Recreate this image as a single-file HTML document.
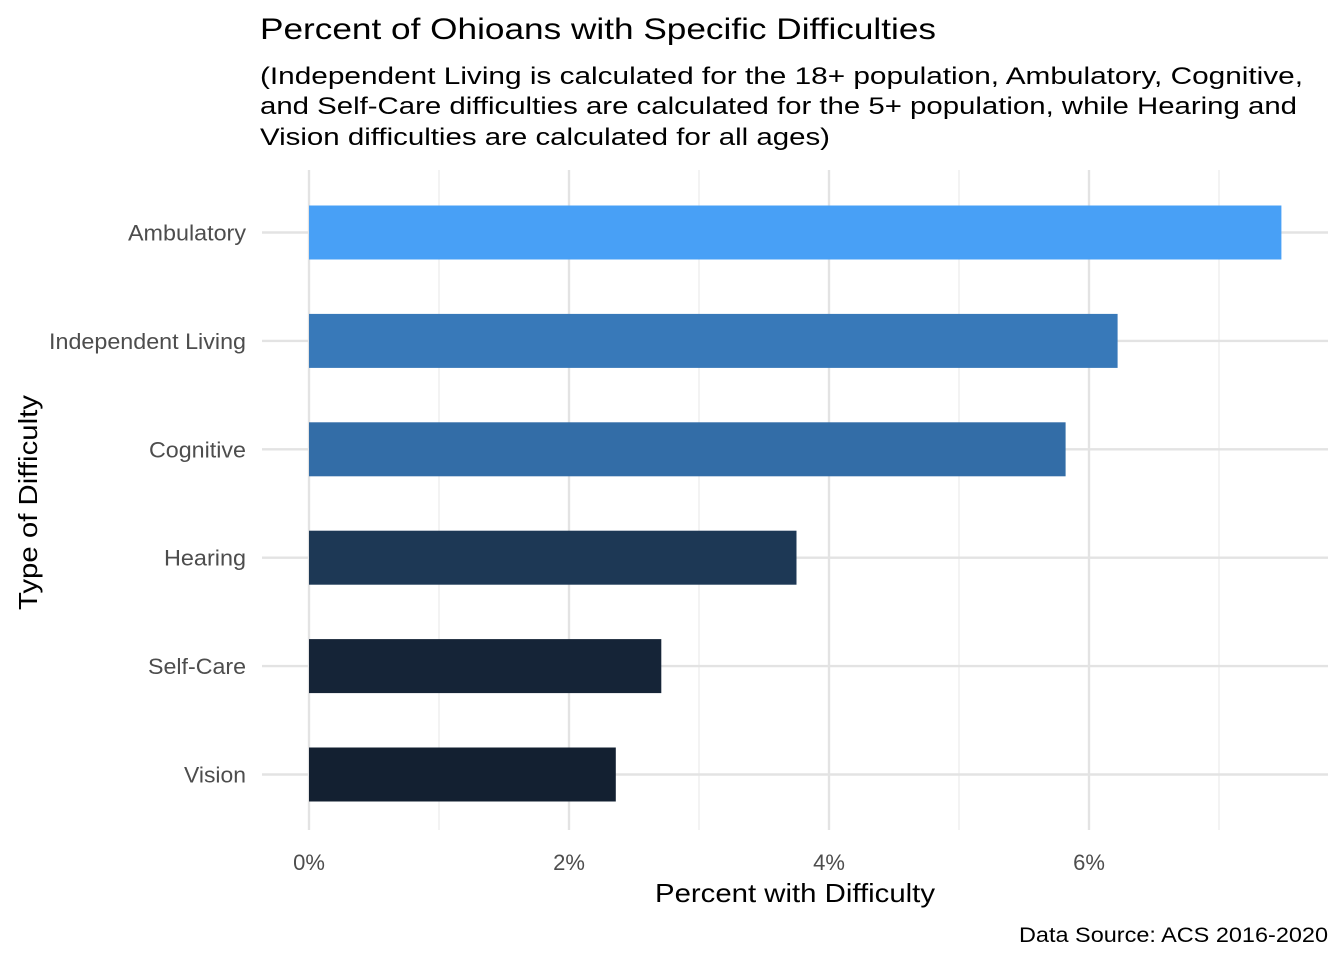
<!DOCTYPE html>
<html><head><meta charset="utf-8">
<style>
html,body{margin:0;padding:0;background:#fff;}
svg{display:block;font-family:"Liberation Sans",Arial,sans-serif;}
</style></head>
<body>
<svg id="chart" width="1344" height="960" viewBox="0 0 1344 960">
  <text x="260" y="39" font-size="30" fill="#000" textLength="676" lengthAdjust="spacingAndGlyphs">Percent of Ohioans with Specific Difficulties</text>
  <text x="260" y="84" font-size="24" fill="#000" textLength="1043" lengthAdjust="spacingAndGlyphs">(Independent Living is calculated for the 18+ population, Ambulatory, Cognitive,</text>
  <text x="260" y="114" font-size="24" fill="#000" textLength="1037" lengthAdjust="spacingAndGlyphs">and Self-Care difficulties are calculated for the 5+ population, while Hearing and</text>
  <text x="260" y="145" font-size="24" fill="#000" textLength="570" lengthAdjust="spacingAndGlyphs">Vision difficulties are calculated for all ages)</text>
  <g id="grid"></g>
  <g id="bars"></g>
  <g id="yticks"></g>
  <g id="xticks"></g>
  <text x="655" y="902" font-size="26" fill="#000" textLength="280" lengthAdjust="spacingAndGlyphs">Percent with Difficulty</text>
  <text transform="translate(37,610) rotate(-90)" font-size="26" fill="#000" textLength="215" lengthAdjust="spacingAndGlyphs">Type of Difficulty</text>
  <text x="1019" y="942" font-size="21" fill="#000" textLength="309" lengthAdjust="spacingAndGlyphs">Data Source: ACS 2016-2020</text>
</svg>
<script>
const categories = ["Ambulatory","Independent Living","Cognitive","Hearing","Self-Care","Vision"];
const values = [7.48, 6.22, 5.82, 3.75, 2.71, 2.36];
const xTicks = [0, 2, 4, 6];
const xTickLabels = ["0%","2%","4%","6%"];
const xMinor = [1, 3, 5, 7];

const NS = "http://www.w3.org/2000/svg";
const plotL = 262, plotR = 1328, plotT = 170, plotB = 830;
const x = v => 309 + v * 130;
const bandStep = 108.4, y0 = 232.5;
const y = i => y0 + i * bandStep;
const barH = 54;
const lo = [0x13,0x20,0x31], hi = [0x48,0xa0,0xf6];
const vmin = Math.min(...values), vmax = Math.max(...values);
function colorFor(v){
  const t = (v - vmin) / (vmax - vmin);
  const c = lo.map((l,k)=>Math.round(l + (hi[k]-l)*Math.pow(t,1.3)));
  return `rgb(${c[0]},${c[1]},${c[2]})`;
}
function mk(tag, attrs, parent){
  const e = document.createElementNS(NS, tag);
  for (const k in attrs) e.setAttribute(k, attrs[k]);
  parent.appendChild(e); return e;
}
const grid = document.getElementById("grid");
xMinor.forEach(v=>{
  const l = mk("line",{x1:x(v),x2:x(v),y1:plotT,y2:plotB,stroke:"#ebebeb","stroke-width":1.2},grid);
  
  
});
xTicks.forEach(v=>{
  const l = mk("line",{x1:x(v),x2:x(v),y1:plotT,y2:plotB,stroke:"#e3e3e3","stroke-width":2.4},grid);
  
  
});
categories.forEach((c,i)=>{
  const l = mk("line",{x1:plotL,x2:plotR,y1:y(i),y2:y(i),stroke:"#e3e3e3","stroke-width":2.4},grid);
  
  
});
const bars = document.getElementById("bars");
values.forEach((v,i)=>{
  const r = mk("rect",{x:x(0),y:y(i)-barH/2,width:x(v)-x(0),height:barH,fill:colorFor(v)},bars);
  
  
});
const yt = document.getElementById("yticks");
const labelW = {"Ambulatory":118,"Independent Living":197,"Cognitive":97,"Hearing":82,"Self-Care":98,"Vision":62};
categories.forEach((c,i)=>{
  const t = mk("text",{x:246-labelW[c],y:y(i)+8,"font-size":22,fill:"#4d4d4d",textLength:labelW[c],lengthAdjust:"spacingAndGlyphs"},yt);
  t.textContent = c;
  
  
});
const xt = document.getElementById("xticks");
xTicks.forEach((v,i)=>{
  const t = mk("text",{x:x(v),y:870,"font-size":22,"text-anchor":"middle",fill:"#4d4d4d"},xt);
  t.textContent = xTickLabels[i];
  
  
});
</script>
</body></html>
